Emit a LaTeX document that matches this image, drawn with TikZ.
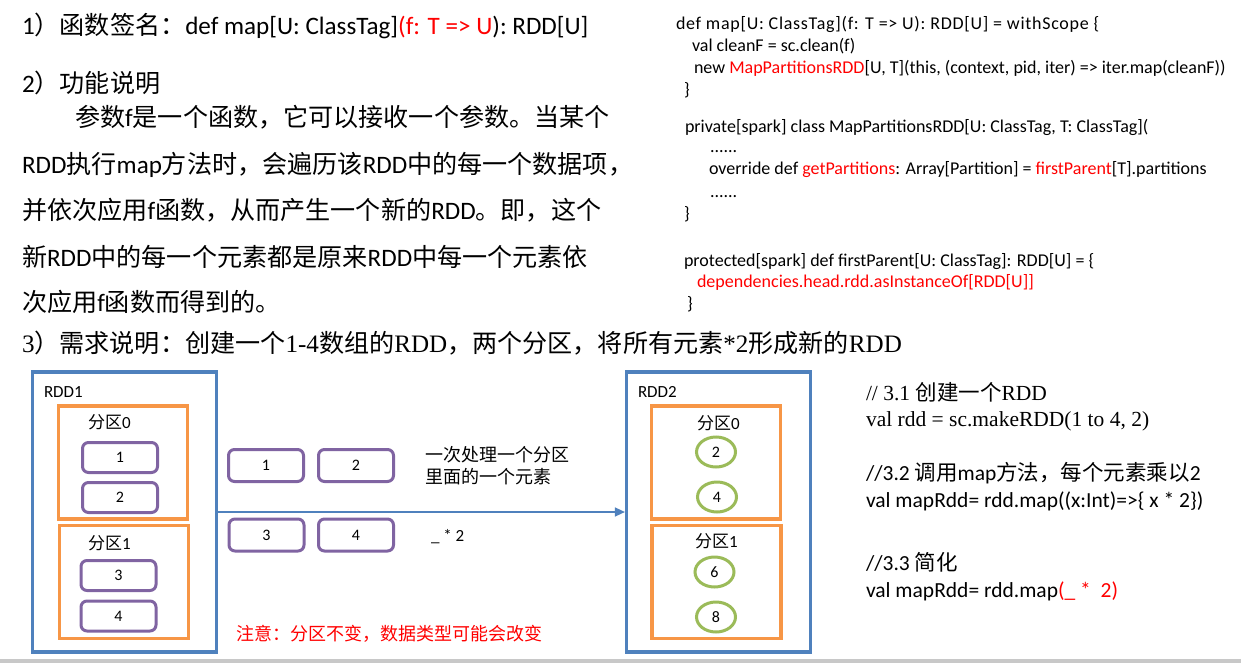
\documentclass[tikz,border=0pt]{standalone}
\usepackage{fontspec}
\setmainfont{Carlito}
\newfontfamily\cjk{Noto Sans CJK SC}
\newfontfamily\tms{Liberation Serif}
\newcommand{\zh}[1]{{\cjk #1}}
\newcommand{\tm}[1]{{\tms #1}}
\usetikzlibrary{arrows.meta,shapes.geometric}
\definecolor{rddblue}{HTML}{4F81BD}
\definecolor{partorange}{HTML}{F79646}
\definecolor{elempurple}{HTML}{8064A2}
\definecolor{resgreen}{HTML}{9BBB59}
\definecolor{bargray}{HTML}{C8C8C8}
\definecolor{hl}{HTML}{FF0000}
\tikzset{
  txt/.style={anchor=base west, inner sep=0pt, outer sep=0pt},
  big/.style={txt, font=\fontsize{25.1}{30}\selectfont},
  code/.style={txt, font=\fontsize{18}{22}\selectfont},
  note/.style={txt, font=\fontsize{21.5}{26}\selectfont},
  mid/.style={txt, font=\fontsize{18}{22}\selectfont},
  lbl/.style={txt, font=\fontsize{17}{20}\selectfont},
  rddbox/.style={draw=rddblue, line width=3.2pt, minimum width=184pt, minimum height=280pt, inner sep=0pt},
  partbox/.style={draw=partorange, line width=3.2pt, minimum width=129pt, minimum height=113pt, inner sep=0pt},
  elem/.style={draw=elempurple, line width=3pt, rounded corners=6pt, minimum width=75pt, minimum height=30pt, inner sep=0pt, font=\fontsize{16}{19}\selectfont},
  res/.style={draw=resgreen, line width=3pt, ellipse, minimum width=39pt, minimum height=30pt, inner sep=0pt, font=\fontsize{16}{19}\selectfont},
  flow/.style={draw=rddblue, line width=1.5pt, -{Triangle[length=10pt,width=9pt]}}
}
\begin{document}
\begin{tikzpicture}[x=1pt,y=-1pt]
\useasboundingbox (0,0) rectangle (1241,663);
\fill[white] (0,0) rectangle (1241,663);
\fill[bargray] (0,659) rectangle (1241,663);

% left text
\node[big] (h1) at (22,35) {1\zh{）函数签名：}def map[U: ClassTag]\textcolor{hl}{(f: T => U}): RDD[U]};
\node[big] (h2) at (22,93) {2\zh{）功能说明}};
\node[big] (p1) at (75,127) {\zh{参数}f\zh{是一个函数，它可以接收一个参数。当某个}};
\node[big] (p2) at (22,174) {RDD\zh{执行}map\zh{方法时，会遍历该}RDD\zh{中的每一个数据项，}};
\node[big] (p3) at (22,219) {\zh{并依次应用}f\zh{函数，从而产生一个新的}RDD\zh{。即，这个}};
\node[big] (p4) at (22,266) {\zh{新}RDD\zh{中的每一个元素都是原来}RDD\zh{中每一个元素依}};
\node[big] (p5) at (22,311) {\zh{次应用}f\zh{函数而得到的。}};
\node[big] (h3) at (22,352) {\tm{3}\zh{）需求说明：创建一个}\tm{1-4}\zh{数组的}\tm{RDD}\zh{，两个分区，将所有元素}\tm{*2}\zh{形成新的}\tm{RDD}};

% code
\node[code] (c1) at (676,30) {\addfontfeature{LetterSpace=4.0}def map[U: ClassTag](f: T => U): RDD[U] = withScope \{};
\node[code] (c2) at (692,52) {val cleanF = sc.clean(f)};
\node[code] (c3) at (694,74) {new \textcolor{hl}{MapPartitionsRDD}[U, T](this, (context, pid, iter) => iter.map(cleanF))};
\node[code] (c4) at (684,96) {\}};
\node[code] (c5) at (685,133) {private[spark] class MapPartitionsRDD[U: ClassTag, T: ClassTag](};
\node[code] (c6) at (710,153) {......};
\node[code] (c7) at (709,175) {override def \textcolor{hl}{getPartitions}: Array[Partition] = \textcolor{hl}{firstParent}[T].partitions};
\node[code] (c8) at (710,197) {......};
\node[code] (c9) at (684,219) {\}};
\node[code] (c10) at (684,266) {protected[spark] def firstParent[U: ClassTag]: RDD[U] = \{};
\node[code] (c11) at (697,287) {\textcolor{hl}{dependencies.head.rdd.asInstanceOf[RDD[U]]}};
\node[code] (c12) at (687,309) {\}};

% RDD1
\node[rddbox] (rdd1) at (124.75,512) {};
\node[lbl] (rdd1l) at (44,397) {RDD1};
\node[partbox] (p10) at (122.75,462.5) {};
\node[lbl] (p10l) at (88,428) {\zh{分区}0};
\node[elem] (e1) at (120,457.5) {1};
\node[elem] (e2) at (120,497.5) {2};
\node[partbox] (p11) at (123.75,582) {};
\node[lbl] (p11l) at (88,549) {\zh{分区}1};
\node[elem] (e3) at (118.5,575.5) {3};
\node[elem] (e4) at (118.5,616) {4};

% middle
\node[elem, minimum height=32pt] (m1) at (266,465.5) {1};
\node[elem, minimum height=32pt] (m2) at (356,465.5) {2};
\node[elem, minimum height=32pt] (m3) at (266.5,535) {3};
\node[elem, minimum height=32pt] (m4) at (356,535) {4};
\node[mid] (t1) at (425,461) {\zh{一次处理一个分区}};
\node[mid] (t2) at (425,483) {\zh{里面的一个元素}};
\node[txt, font=\fontsize{17}{20}\selectfont] (t3) at (431,541) {\_ * 2};
\node[mid, text=hl] (t4) at (236,640) {\zh{注意：分区不变，数据类型可能会改变}};

% RDD2
\node[rddbox] (rdd2) at (718.5,512) {};
\node[lbl] (rdd2l) at (638,397) {RDD2};
\node[partbox] (p20) at (716,462.5) {};
\node[lbl] (p20l) at (697,429) {\zh{分区}0};
\node[res] (r1) at (716,452) {2};
\node[res] (r2) at (717,497) {4};
\node[partbox] (p21) at (716.5,582) {};
\node[lbl] (p21l) at (695,547) {\zh{分区}1};
\node[res] (r3) at (714.5,572) {6};
\node[res] (r4) at (716,617) {8};

\draw[flow] (rdd1.east) -- (rdd2.west);

% right notes
\node[note] (n1) at (866,400.5) {{\tms //~3.1~}\zh{创建一个}{\tms RDD}};
\node[note] (n2) at (866,426) {\tms val rdd = sc.makeRDD(1 to 4, 2)};
\node[note] (n3) at (866,480.5) {//3.2 \zh{调用}map\zh{方法，每个元素乘以}2};
\node[note] (n4) at (866,507) {val mapRdd= rdd.map((x:Int)=>\{ x * 2\})};
\node[note] (n5) at (866,570) {//3.3 \zh{简化}};
\node[note] (n6) at (866,597) {val mapRdd= rdd.map\textcolor{hl}{(\_ * ~2)}};
\end{tikzpicture}
\end{document}
